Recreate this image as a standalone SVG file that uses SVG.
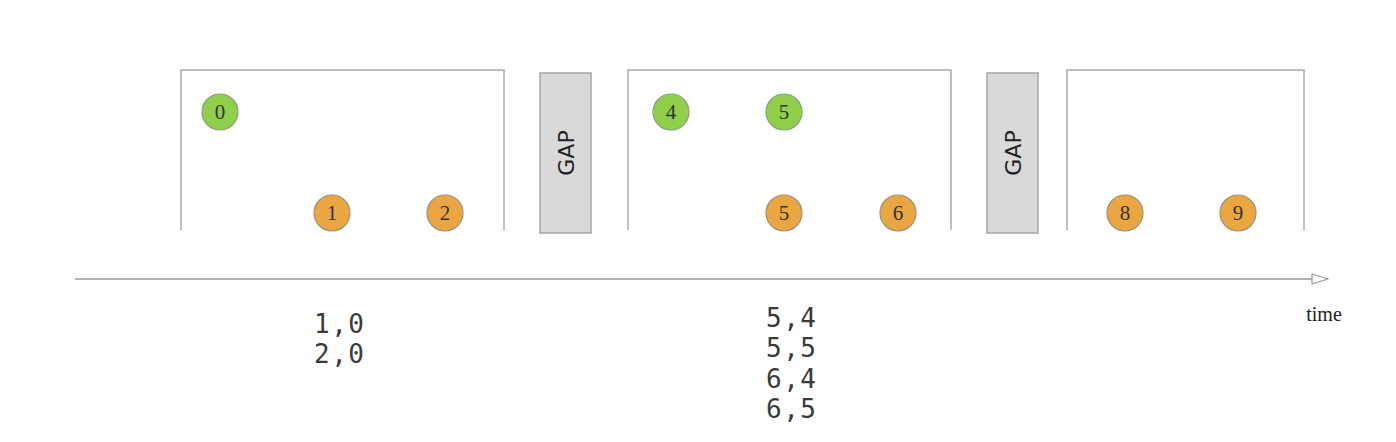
<svg xmlns="http://www.w3.org/2000/svg" width="1396" height="442" viewBox="0 0 1396 442">
<style>
.win{fill:none;stroke:#aaaaaa;stroke-width:1.5}
.gap{fill:#d9d9d9;stroke:#a6a6a6;stroke-width:1.5}
.gt{font-family:"DejaVu Sans",sans-serif;font-size:22px;fill:#222;text-anchor:middle;dominant-baseline:central}
.g{fill:#8fcf4a;stroke:#8e9e7e;stroke-width:1.2}
.o{fill:#eaa640;stroke:#9e9080;stroke-width:1.2}
.n{font-family:"Liberation Serif",serif;font-size:21px;fill:#333;text-anchor:middle}
.m{font-family:"DejaVu Sans Mono",monospace;font-size:26px;fill:#3a3a3a;letter-spacing:1.5px}
.t{font-family:"Liberation Serif",serif;font-size:20px;fill:#222;text-anchor:middle}
</style>
<defs>
<marker id="arr" markerWidth="18" markerHeight="12" refX="17" refY="6" orient="auto" markerUnits="userSpaceOnUse">
<path d="M1,1 L17,6 L1,11 Z" fill="#fff" stroke="#999" stroke-width="1.2"/>
</marker>
</defs>
<g id="window1"><path class="win" d="M181,230 V70 H504 V230"/></g>
<g id="gap1"><rect class="gap" x="540" y="73" width="51" height="160"/><text class="gt" transform="translate(566,153) rotate(-90)">GAP</text></g>
<g id="window2"><path class="win" d="M628,230 V70 H951 V230"/></g>
<g id="gap2"><rect class="gap" x="987" y="73" width="51" height="160"/><text class="gt" transform="translate(1013,153) rotate(-90)">GAP</text></g>
<g id="window3"><path class="win" d="M1067,230 V70 H1304 V230"/></g>
<g id="n0"><circle class="g" cx="220" cy="112" r="18"/><text class="n" x="220" y="119">0</text></g>
<g id="n1"><circle class="o" cx="332" cy="213" r="18"/><text class="n" x="332" y="220">1</text></g>
<g id="n2"><circle class="o" cx="445" cy="213" r="18"/><text class="n" x="445" y="220">2</text></g>
<g id="n4"><circle class="g" cx="671" cy="112" r="18"/><text class="n" x="671" y="119">4</text></g>
<g id="n5g"><circle class="g" cx="784" cy="112" r="18"/><text class="n" x="784" y="119">5</text></g>
<g id="n5o"><circle class="o" cx="784" cy="213" r="18"/><text class="n" x="784" y="220">5</text></g>
<g id="n6"><circle class="o" cx="898" cy="213" r="18"/><text class="n" x="898" y="220">6</text></g>
<g id="n8"><circle class="o" cx="1125" cy="213" r="18"/><text class="n" x="1125" y="220">8</text></g>
<g id="n9"><circle class="o" cx="1238" cy="213" r="18"/><text class="n" x="1238" y="220">9</text></g>
<g id="connectors"><line x1="75" y1="279" x2="1328" y2="279" stroke="#999" stroke-width="1.5" marker-end="url(#arr)"/></g>
<g id="time"><text class="t" x="1324" y="321">time</text></g>
<g id="out1"><text class="m" x="314" y="333">1,0</text><text class="m" x="314" y="363">2,0</text></g>
<g id="out2"><text class="m" x="766" y="327">5,4</text><text class="m" x="766" y="357">5,5</text><text class="m" x="766" y="388">6,4</text><text class="m" x="766" y="418">6,5</text></g>
</svg>
